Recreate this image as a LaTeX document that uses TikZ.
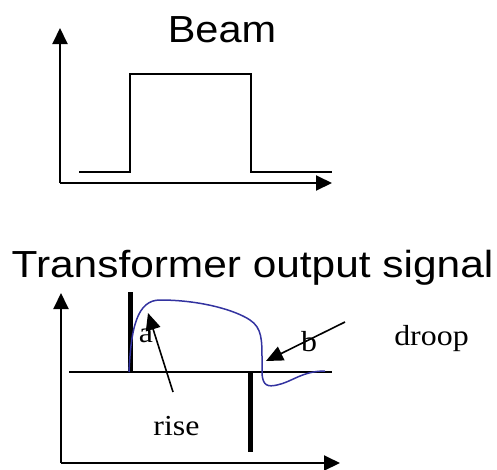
\documentclass[tikz,border=0pt]{standalone}
\usepackage{fontspec}
\setmainfont{Liberation Serif}
\newfontfamily\titlefont{Liberation Sans}
\usetikzlibrary{arrows.meta}
\definecolor{curveblue}{RGB}{51,51,160}
\begin{document}
\begin{tikzpicture}[x=1pt,y=-1pt,
  axis/.style={line width=2pt,-{Triangle[length=16pt,width=15pt]}},
  plainline/.style={line width=2pt},
  bar/.style={line width=5pt},
  signal/.style={line width=1.5pt,curveblue},
  pointer/.style={line width=1.6pt,-{Triangle[length=17pt,width=15pt]}},
  title/.style={inner sep=0pt,anchor=base,font=\titlefont\fontsize{37.7}{40}\selectfont},
  label/.style={inner sep=0pt,anchor=base,font=\fontsize{29}{31}\selectfont}]
\path[use as bounding box] (0,0) rectangle (497,469);
% ---- top: beam ----
\node[title] (beam) at (222,42) {\scalebox{1.1}[1]{Beam}};
\coordinate (o1) at (60,183);
\coordinate (y1) at (60,28);
\coordinate (x1) at (332,183);
\draw[axis] (o1) -- (y1);
\draw[axis] (o1) -- (x1);
\draw[plainline] (79,172) -- (130,172) -- (130,74) -- (251,74) -- (251,172) -- (332,172);
% ---- bottom: transformer output ----
\node[title] (ttl) at (252.5,277) {\scalebox{1.125}[1]{Transformer output signal}};
\coordinate (o2) at (61,463);
\coordinate (y2) at (61,293);
\coordinate (x2) at (340,463);
\draw[axis] (o2) -- (y2);
\draw[axis] (o2) -- (x2);
\draw[plainline] (69,372) -- (332,372);
\draw[bar] (130,292) -- (130,372);
\draw[bar] (250,372) -- (250,452);
\draw[signal] (129,372) .. controls (131,328) and (137,300) .. (160,300)
  .. controls (200,300) and (235,310) .. (250,320)
  .. controls (262,328) and (262,340) .. (262,360)
  -- (262,374)
  .. controls (263,386) and (268,387) .. (277,385)
  .. controls (292,382) and (302,371) .. (325,371);
% labels
\node[label] (a) at (146,342) {\scalebox{1.1}[1]{a}};
\node[label] (b) at (309,351) {\scalebox{1.1}[1]{b}};
\node[label] (rise) at (176.5,435) {\scalebox{1.1}[1]{rise}};
\node[label] (droop) at (431.5,345) {\scalebox{1.1}[1]{droop}};
% pointers
\coordinate (riseS) at (173,392);
\coordinate (riseT) at (148,313);
\coordinate (bS) at (345,322);
\coordinate (bT) at (266,361);
\draw[pointer] (riseS) -- (riseT);
\draw[pointer] (bS) -- (bT);
\end{tikzpicture}
\end{document}
